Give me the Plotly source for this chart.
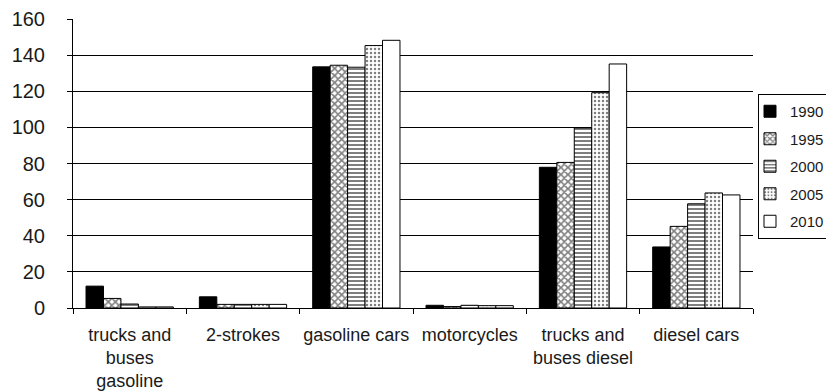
import plotly.graph_objects as go

# Emission estimates by vehicle category
CATEGORIES = [
    "trucks and<br>buses<br>gasoline",
    "2-strokes",
    "gasoline cars",
    "motorcycles",
    "trucks and<br>buses diesel",
    "diesel cars",
]
YEARS = ["1990", "1995", "2000", "2005", "2010"]

Y1990 = [12.1, 6.2, 133.5, 1.5, 77.9, 33.8]
Y1995 = [5.3, 2.0, 134.4, 0.8, 80.6, 45.2]
Y2000 = [2.2, 2.0, 133.3, 1.5, 99.7, 57.7]
Y2005 = [0.6, 2.0, 145.3, 1.3, 119.2, 63.7]
Y2010 = [0.6, 2.0, 148.2, 1.3, 135.1, 62.6]

Y_TICKS = [0, 20, 40, 60, 80, 100, 120, 140, 160]

SERIES = [Y1990, Y1995, Y2000, Y2005, Y2010]

FONT = "Arial, Liberation Sans, sans-serif"
INK = "#1a1a1a"

# pattern per year: (fill colour, pattern shape, pattern size, solidity)
STYLES = [
    ("black", "", 8, 0.3),
    ("white", "x", 5, 0.55),
    ("white", "-", 4, 0.5),
    ("white", ".", 4, 0.3),
    ("white", "", 8, 0.3),
]

# the page body keeps its default 8px margin, so the figure is sized to
# the visible part of the 834x392 window and all px positions shift by 8
OFF = 8
W, H = 834 - OFF, 392 - OFF
PLOT_L, PLOT_R = 73 - OFF, 753 - OFF
PLOT_T, PLOT_B = 19 - OFF, 308 - OFF

fig = go.Figure()
for year, vals, (fill, shape, size, solid) in zip(YEARS, SERIES, STYLES):
    fig.add_trace(go.Bar(
        name=year,
        legendgroup=year,
        x=CATEGORIES,
        y=vals,
        marker=dict(
            color=fill,
            line=dict(color="black", width=1),
            pattern=dict(shape=shape, fgcolor="black", bgcolor="white",
                         size=size, solidity=solid, fillmode="overlay"),
        ),
    ))

span = W - PLOT_L
fig.update_layout(
    width=W, height=H,
    margin=dict(l=PLOT_L, r=0, t=PLOT_T, b=H - PLOT_B),
    paper_bgcolor="white", plot_bgcolor="white",
    barmode="group", bargap=0.23, bargroupgap=0,
    font=dict(family=FONT, color=INK, size=17),
    legend=dict(
        x=(758 - OFF - PLOT_L) / span, xanchor="left",
        y=(PLOT_B - (94 - OFF)) / (PLOT_B - PLOT_T), yanchor="top",
        bordercolor="black", borderwidth=1, bgcolor="white",
        font=dict(size=15), tracegroupgap=5,
        traceorder="grouped", itemwidth=30, indentation=-9,
    ),
    showlegend=True,
)

fig.update_xaxes(
    domain=[0, (PLOT_R - PLOT_L) / span],
    automargin=False,
    showline=True, linecolor="black", linewidth=1,
    ticks="outside", ticklen=5, tickcolor="black",
    tickson="boundaries", showgrid=False,
    tickangle=0, ticklabelstandoff=10,
    tickfont=dict(size=18),
)
fig.update_yaxes(
    range=[0, 160], tickvals=Y_TICKS,
    automargin=False,
    showline=True, linecolor="black", linewidth=1,
    ticks="outside", ticklen=5, tickcolor="black",
    showgrid=False, zeroline=False,
    ticklabelstandoff=18, ticklabeloverflow="allow",
    tickfont=dict(size=20),
    minor=dict(tickvals=Y_TICKS[1:-1], showgrid=True,
               gridcolor="black", gridwidth=1, ticks=""),
)

fig.write_html("out.html")
